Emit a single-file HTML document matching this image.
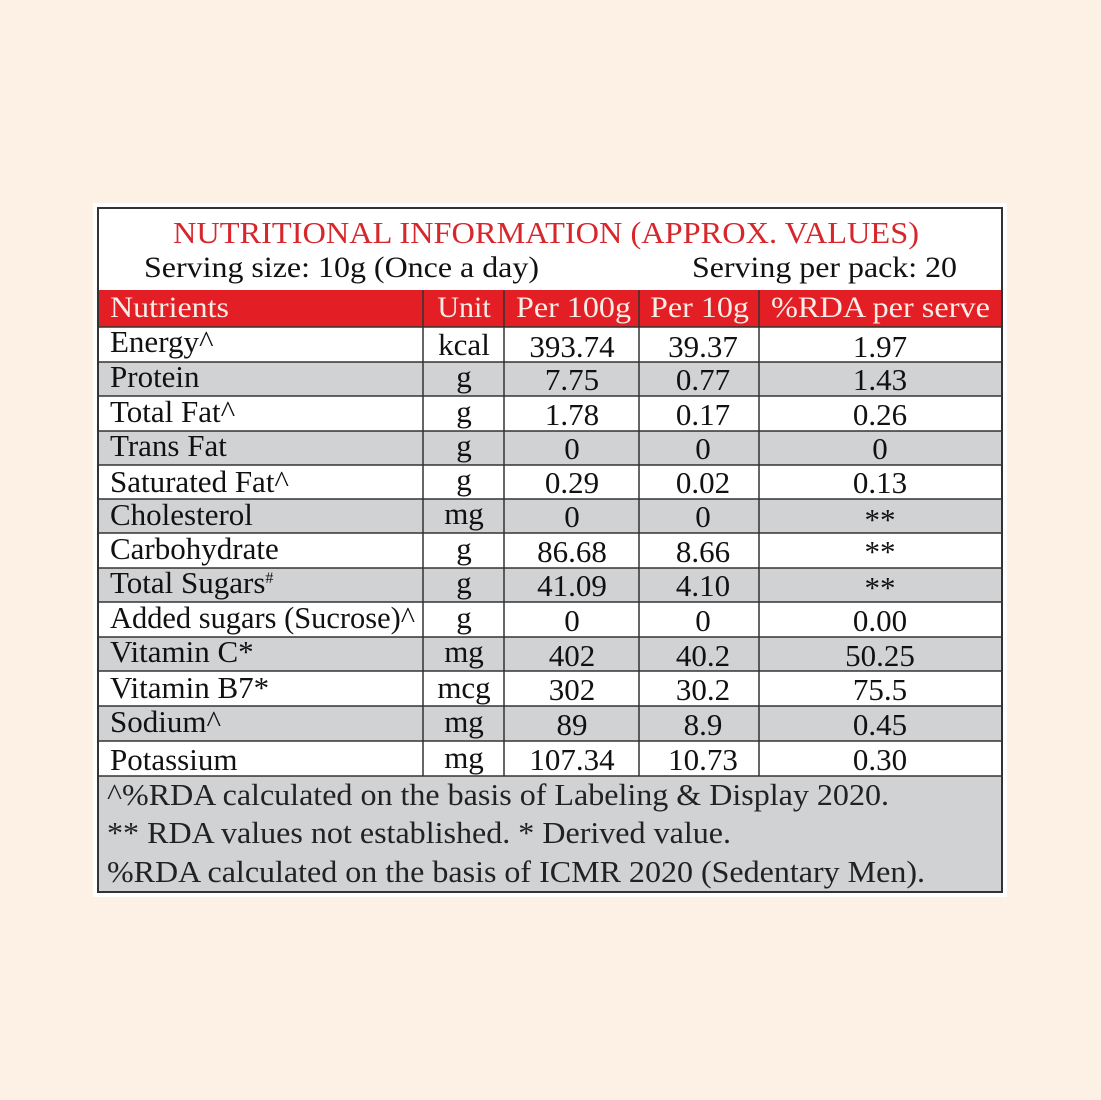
<!DOCTYPE html>
<html><head><style>
html,body{margin:0;padding:0;background:#fdf1e6;}
svg{display:block;}
text{font-family:"Liberation Serif",serif;}
</style></head><body>
<svg width="1101" height="1100" xmlns="http://www.w3.org/2000/svg">
<rect x="0" y="0" width="1101" height="1100" fill="#fdf1e6"/>
<rect x="93" y="203" width="914" height="694" fill="#ffffff"/>
<rect x="98" y="208" width="904" height="684" fill="#ffffff" stroke="#333" stroke-width="2"/>
<text x="173" y="243" font-size="31" fill="#d7262c" textLength="746" lengthAdjust="spacingAndGlyphs">NUTRITIONAL INFORMATION (APPROX. VALUES)</text>
<text x="144" y="277" font-size="30" fill="#111" textLength="395" lengthAdjust="spacingAndGlyphs">Serving size: 10g (Once a day)</text>
<text x="692" y="277" font-size="30" fill="#111" textLength="265" lengthAdjust="spacingAndGlyphs">Serving per pack: 20</text>
<rect x="99" y="290" width="902" height="37" fill="#e31e25"/>
<g font-size="30" fill="#f7ece6">
<text x="110" y="317" textLength="119" lengthAdjust="spacingAndGlyphs">Nutrients</text>
<text x="464" y="317" text-anchor="middle">Unit</text>
<text x="516" y="317" textLength="115" lengthAdjust="spacingAndGlyphs">Per 100g</text>
<text x="650" y="317" textLength="99" lengthAdjust="spacingAndGlyphs">Per 10g</text>
<text x="771" y="317" textLength="219" lengthAdjust="spacingAndGlyphs">%RDA per serve</text>
</g>
<g fill="#d1d2d4">
<rect x="99" y="362" width="902" height="34"/>
<rect x="99" y="431" width="902" height="34"/>
<rect x="99" y="499" width="902" height="34"/>
<rect x="99" y="568" width="902" height="34"/>
<rect x="99" y="637" width="902" height="34"/>
<rect x="99" y="706" width="902" height="35"/>
<rect x="99" y="776" width="902" height="115"/>
</g>
<g stroke="#333" stroke-width="1.5">
<line x1="99" y1="327" x2="1001" y2="327"/>
<line x1="99" y1="362" x2="1001" y2="362"/>
<line x1="99" y1="396" x2="1001" y2="396"/>
<line x1="99" y1="431" x2="1001" y2="431"/>
<line x1="99" y1="465" x2="1001" y2="465"/>
<line x1="99" y1="499" x2="1001" y2="499"/>
<line x1="99" y1="533" x2="1001" y2="533"/>
<line x1="99" y1="568" x2="1001" y2="568"/>
<line x1="99" y1="602" x2="1001" y2="602"/>
<line x1="99" y1="637" x2="1001" y2="637"/>
<line x1="99" y1="671" x2="1001" y2="671"/>
<line x1="99" y1="706" x2="1001" y2="706"/>
<line x1="99" y1="741" x2="1001" y2="741"/>
<line x1="99" y1="776" x2="1001" y2="776"/>
<line x1="423" y1="290" x2="423" y2="776"/>
<line x1="504" y1="290" x2="504" y2="776"/>
<line x1="639" y1="290" x2="639" y2="776"/>
<line x1="759" y1="290" x2="759" y2="776"/>
</g>
<g font-size="31" fill="#111">
<text x="110" y="352">Energy^</text>
<text x="110" y="387">Protein</text>
<text x="110" y="422">Total Fat^</text>
<text x="110" y="456">Trans Fat</text>
<text x="110" y="492">Saturated Fat^</text>
<text x="110" y="525">Cholesterol</text>
<text x="110" y="559">Carbohydrate</text>
<text x="110" y="593">Total Sugars<tspan font-size="16" dy="-10">#</tspan></text>
<text x="110" y="628" textLength="305" lengthAdjust="spacingAndGlyphs">Added sugars (Sucrose)^</text>
<text x="110" y="662">Vitamin C*</text>
<text x="110" y="698">Vitamin B7*</text>
<text x="110" y="732">Sodium^</text>
<text x="110" y="770">Potassium</text>
</g>
<g font-size="31" fill="#111" text-anchor="middle">
<text x="464" y="355">kcal</text><text x="572" y="357">393.74</text><text x="703" y="357">39.37</text><text x="880" y="357">1.97</text>
<text x="464" y="387">g</text><text x="572" y="390">7.75</text><text x="703" y="390">0.77</text><text x="880" y="390">1.43</text>
<text x="464" y="422">g</text><text x="572" y="425">1.78</text><text x="703" y="425">0.17</text><text x="880" y="425">0.26</text>
<text x="464" y="456">g</text><text x="572" y="459">0</text><text x="703" y="459">0</text><text x="880" y="459">0</text>
<text x="464" y="490">g</text><text x="572" y="493">0.29</text><text x="703" y="493">0.02</text><text x="880" y="493">0.13</text>
<text x="464" y="524">mg</text><text x="572" y="527">0</text><text x="703" y="527">0</text><text x="880" y="530">**</text>
<text x="464" y="559">g</text><text x="572" y="562">86.68</text><text x="703" y="562">8.66</text><text x="880" y="562">**</text>
<text x="464" y="593">g</text><text x="572" y="596">41.09</text><text x="703" y="596">4.10</text><text x="880" y="598">**</text>
<text x="464" y="628">g</text><text x="572" y="631">0</text><text x="703" y="631">0</text><text x="880" y="631">0.00</text>
<text x="464" y="662">mg</text><text x="572" y="666">402</text><text x="703" y="666">40.2</text><text x="880" y="666">50.25</text>
<text x="464" y="698">mcg</text><text x="572" y="700">302</text><text x="703" y="700">30.2</text><text x="880" y="700">75.5</text>
<text x="464" y="732">mg</text><text x="572" y="735">89</text><text x="703" y="735">8.9</text><text x="880" y="735">0.45</text>
<text x="464" y="768">mg</text><text x="572" y="770">107.34</text><text x="703" y="770">10.73</text><text x="880" y="770">0.30</text>
</g>
<g font-size="31" fill="#222">
<text x="107" y="805" textLength="782" lengthAdjust="spacingAndGlyphs">^%RDA calculated on the basis of Labeling &amp; Display 2020.</text>
<text x="107" y="843" textLength="624" lengthAdjust="spacingAndGlyphs">** RDA values not established. * Derived value.</text>
<text x="107" y="882" textLength="818" lengthAdjust="spacingAndGlyphs">%RDA calculated on the basis of ICMR 2020 (Sedentary Men).</text>
</g>
</svg>
</body></html>
